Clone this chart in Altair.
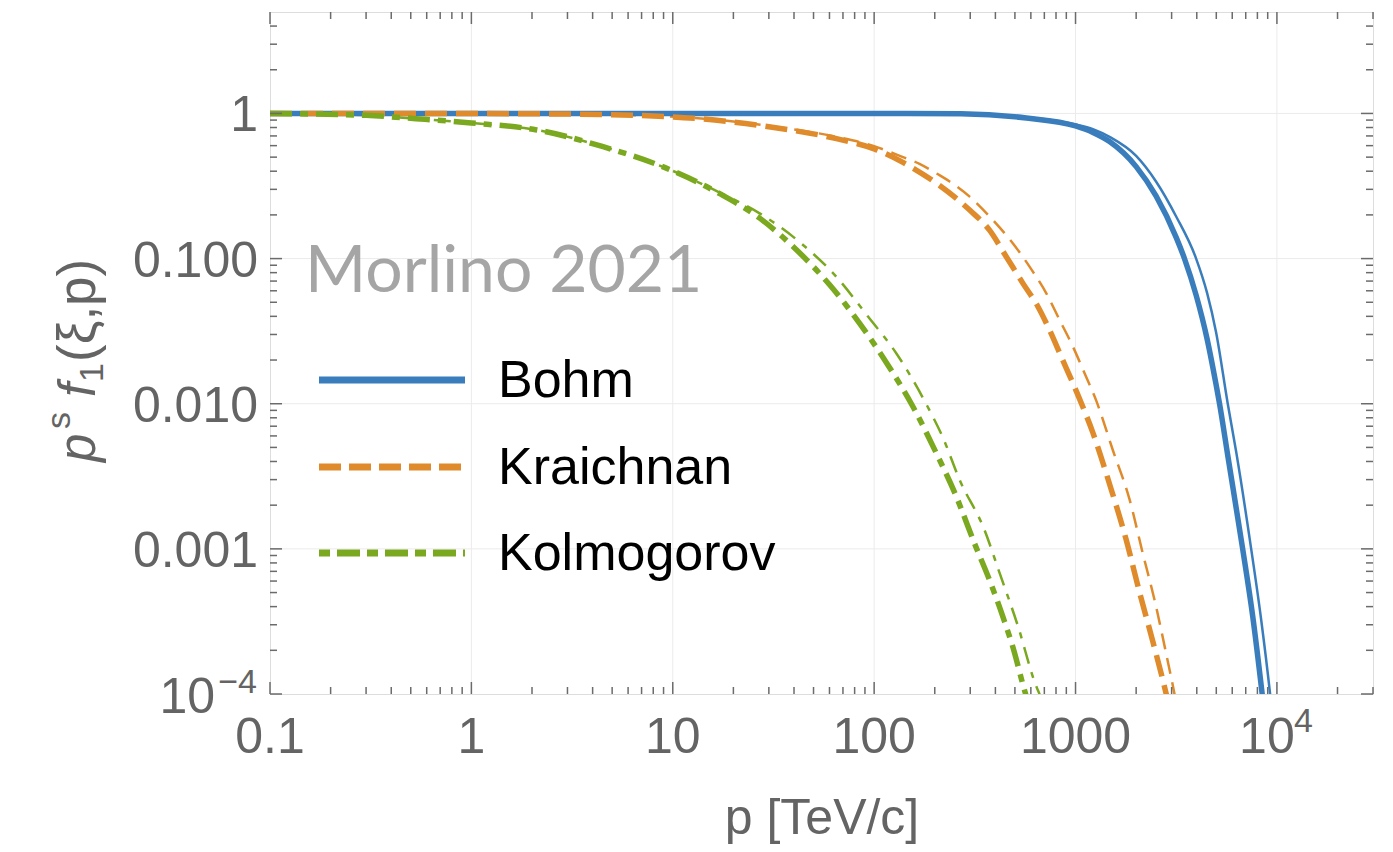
import altair as alt
import pandas as pd

# ---------------- data ----------------
bohm_thick_p = [0.1, 1, 10, 100, 270, 570, 1000, 1220, 1475, 2000, 2510, 3160, 3475, 3970, 4500, 4990, 5190, 5700, 6760, 7590, 8450, 9200]
bohm_thick_f = [1.0, 1.0, 1.0, 1.0, 0.995, 0.93, 0.82, 0.74, 0.64, 0.43, 0.27, 0.14, 0.1, 0.056, 0.028, 0.0135, 0.01, 0.0044, 0.001, 3.4e-4, 1.0e-4, 3.5e-5]

bohm_thin_p = [0.1, 1, 10, 100, 270, 570, 1000, 1220, 1475, 2000, 2510, 3160, 3970, 4500, 4990, 5700, 6270, 7450, 8340, 9250, 9900]
bohm_thin_f = [1.0, 1.0, 1.0, 1.0, 0.995, 0.94, 0.84, 0.78, 0.69, 0.51, 0.34, 0.195, 0.1, 0.058, 0.031, 0.01, 0.0047, 0.001, 3.3e-4, 1.0e-4, 4.0e-5]

kr_thick_p = [0.1, 1, 3, 9.6, 30, 65, 100, 139, 204, 298, 374, 453, 548, 651, 743, 849, 1047, 1220, 1475, 1786, 2080, 2420, 2820, 3100]
kr_thick_f = [1.0, 0.998, 0.99, 0.95, 0.81, 0.67, 0.57, 0.46, 0.33, 0.216, 0.157, 0.103, 0.0675, 0.0466, 0.0322, 0.0211, 0.0108, 0.0063, 0.0028, 0.00115, 5.0e-4, 2.3e-4, 1.0e-4, 5.5e-5]

kr_thin_p = [0.1, 1, 3, 9.6, 30, 65, 100, 139, 168, 204, 237, 298, 389, 489, 591, 716, 834, 971, 1109, 1267, 1531, 1853, 2158, 2512, 2818, 3100, 3350]
kr_thin_f = [1.0, 0.998, 0.99, 0.955, 0.82, 0.69, 0.595, 0.50, 0.45, 0.386, 0.34, 0.267, 0.184, 0.127, 0.088, 0.0576, 0.0377, 0.0247, 0.0162, 0.0105, 0.0048, 0.0022, 9.3e-4, 4.0e-4, 1.9e-4, 1.0e-4, 5.5e-5]

ko_thick_p = [0.1, 0.3, 0.53, 1.0, 2.11, 4.51, 9.67, 17.1, 27, 41.1, 60.1, 84.7, 117, 153, 204, 256, 315, 374, 436, 498, 548, 565, 600]
ko_thick_f = [1.0, 0.97, 0.92, 0.86, 0.77, 0.59, 0.41, 0.28, 0.19, 0.115, 0.066, 0.0358, 0.0185, 0.0100, 0.00454, 0.00229, 0.00109, 6.1e-4, 3.4e-4, 1.92e-4, 1.16e-4, 1.0e-4, 7.6e-5]

ko_thin_p = [0.1, 0.3, 0.53, 1.0, 2.11, 4.51, 9.67, 17.1, 27, 43.5, 64.9, 93, 129, 181, 220, 266, 353, 420, 518, 638, 662, 710]
ko_thin_f = [1.0, 0.97, 0.92, 0.86, 0.77, 0.59, 0.41, 0.285, 0.205, 0.127, 0.075, 0.040, 0.0222, 0.0100, 0.0058, 0.00298, 0.00135, 6.8e-4, 2.93e-4, 1.13e-4, 1.0e-4, 7.0e-5]

legend_names = ["Bohm", "Kraichnan", "Kolmogorov"]

x_domain = [0.1, 30000]
y_domain = [1e-4, 5]
x_major = [0.1, 1, 10, 100, 1000, 10000]
x_minor_mult = [2, 3, 4, 5, 6, 7, 8, 9]
y_major = [1e-4, 1e-3, 1e-2, 1e-1, 1]
x_label_vals = [0.1, 1, 10, 100, 1000]
x_label_text = ["0.1", "1", "10", "100", "1000"]
y_label_vals = [1e-3, 1e-2, 1e-1, 1]
y_label_text = ["0.001", "0.010", "0.100", "1"]

# ---------------- styling ----------------
W, H = 1103, 682
BLUE, ORANGE, GREEN = "#3a7dbd", "#df8b2b", "#7aa81e"
AXIS = "#6b6b6b"
LABEL = "#646464"
GRID = "#ebebeb"
FONT = "Liberation Sans"

xs = alt.Scale(type="log", domain=x_domain, nice=False)
ys = alt.Scale(type="log", domain=y_domain, nice=False)

x_minor = [m * d for d in x_major for m in x_minor_mult if m * d <= x_domain[1]]
y_minor = [m * d for d in y_major for m in x_minor_mult if m * d < y_domain[1]]


def curve(p, f, color, width, dash=None):
    df = pd.DataFrame({"p": p, "f": f})
    kw = dict(color=color, strokeWidth=width, clip=True, strokeJoin="round", interpolate="monotone")
    if dash:
        kw["strokeDash"] = dash
        kw["strokeCap"] = "butt"
    return alt.Chart(df).mark_line(**kw).encode(
        x=alt.X("p:Q", scale=xs, axis=None),
        y=alt.Y("f:Q", scale=ys, axis=None),
    )


def xrule(vals, y0, y1, color, width):
    return alt.Chart(pd.DataFrame({"v": vals})).mark_rule(color=color, strokeWidth=width).encode(
        x=alt.X("v:Q", scale=xs, axis=None), y=alt.value(y0), y2=alt.value(y1))


def yrule(vals, x0, x1, color, width):
    return alt.Chart(pd.DataFrame({"v": vals})).mark_rule(color=color, strokeWidth=width).encode(
        y=alt.Y("v:Q", scale=ys, axis=None), x=alt.value(x0), x2=alt.value(x1))


def label(text, x, y, size, color, **kw):
    return alt.Chart(pd.DataFrame({"t": [text]})).mark_text(
        fontSize=size, color=color, font=kw.pop("font", FONT), **kw
    ).encode(text="t:N", x=alt.value(x), y=alt.value(y))


layers = []
# grid
layers.append(xrule(x_major[1:], 0, H, GRID, 1))
layers.append(yrule(y_major[1:], 0, W, GRID, 1))

# curves (thin first, thick on top)
layers.append(curve(bohm_thin_p, bohm_thin_f, BLUE, 2.5))
layers.append(curve(kr_thin_p, kr_thin_f, ORANGE, 2.5, [16, 9]))
layers.append(curve(ko_thin_p, ko_thin_f, GREEN, 2.5, [17, 9, 6, 9]))
layers.append(curve(bohm_thick_p, bohm_thick_f, BLUE, 5.5))
layers.append(curve(kr_thick_p, kr_thick_f, ORANGE, 5.5, [22, 9]))
layers.append(curve(ko_thick_p, ko_thick_f, GREEN, 5.5, [22, 8, 8, 8]))

# frame ticks (inward)
layers.append(xrule(x_major, H, H - 12, AXIS, 1.5))
layers.append(xrule(x_minor, H, H - 7, AXIS, 1.5))
layers.append(xrule(x_major, 0, 12, AXIS, 1.5))
layers.append(xrule(x_minor, 0, 7, AXIS, 1.5))
layers.append(yrule(y_major, 0, 12, AXIS, 1.5))
layers.append(yrule(y_minor, 0, 7, AXIS, 1.5))
layers.append(yrule(y_major, W, W - 12, AXIS, 1.5))
layers.append(yrule(y_minor, W, W - 7, AXIS, 1.5))

# x tick labels
layers.append(alt.Chart(pd.DataFrame({"v": x_label_vals, "t": x_label_text})).mark_text(
    fontSize=50, color=LABEL, font=FONT, align="center", baseline="alphabetic"
).encode(x=alt.X("v:Q", scale=xs, axis=None), y=alt.value(741), text="t:N"))
layers.append(alt.Chart(pd.DataFrame({"v": [10000], "t": ["10"]})).mark_text(
    fontSize=50, color=LABEL, font=FONT, align="center", baseline="alphabetic", dx=-10
).encode(x=alt.X("v:Q", scale=xs, axis=None), y=alt.value(741), text="t:N"))
layers.append(alt.Chart(pd.DataFrame({"v": [10000], "t": ["4"]})).mark_text(
    fontSize=34, color=LABEL, font=FONT, align="left", baseline="alphabetic", dx=17
).encode(x=alt.X("v:Q", scale=xs, axis=None), y=alt.value(720), text="t:N"))

# y tick labels
layers.append(alt.Chart(pd.DataFrame({"v": y_label_vals, "t": y_label_text})).mark_text(
    fontSize=50, color=LABEL, font=FONT, align="right", baseline="alphabetic", dy=18
).encode(y=alt.Y("v:Q", scale=ys, axis=None), x=alt.value(-12), text="t:N"))
layers.append(alt.Chart(pd.DataFrame({"v": [1e-4], "t": ["10"]})).mark_text(
    fontSize=50, color=LABEL, font=FONT, align="right", baseline="alphabetic", dy=19
).encode(y=alt.Y("v:Q", scale=ys, axis=None), x=alt.value(-55), text="t:N"))
layers.append(alt.Chart(pd.DataFrame({"v": [1e-4], "t": ["\u22124"]})).mark_text(
    fontSize=34, color=LABEL, font=FONT, align="right", baseline="alphabetic", dy=-1
).encode(y=alt.Y("v:Q", scale=ys, axis=None), x=alt.value(-13), text="t:N"))

# axis titles
layers.append(label("p [TeV/c]", 552, 822, 50, LABEL, align="center", baseline="alphabetic"))
layers.append(label("p", -175, 450, 51, LABEL, angle=270, align="left", baseline="alphabetic", fontStyle="italic"))
layers.append(label("s", -200, 417, 34, LABEL, angle=270, align="left", baseline="alphabetic"))
layers.append(label("f", -175, 385, 51, LABEL, angle=270, align="left", baseline="alphabetic", fontStyle="italic"))
layers.append(label("1", -167, 370, 34, LABEL, angle=270, align="left", baseline="alphabetic"))
layers.append(label("(\u03be,p)", -175, 350, 53, LABEL, angle=270, align="left", baseline="alphabetic"))

# annotation
layers.append(label("Morlino 2021", 35, 280, 66, "#a5a5a5", align="left", baseline="alphabetic", font="Lato"))

# legend
leg_y = [368, 455, 541]
leg_dash = [None, [22, 8], [11, 7, 23, 7]]
leg_col = [BLUE, ORANGE, GREEN]
for name, yy, dash, col in zip(legend_names, leg_y, leg_dash, leg_col):
    kw = dict(color=col, strokeWidth=7)
    if dash:
        kw["strokeDash"] = dash
        kw["strokeCap"] = "butt"
    layers.append(alt.Chart(pd.DataFrame({"t": [name]})).mark_rule(**kw).encode(
        x=alt.value(49), x2=alt.value(195), y=alt.value(yy)))
    layers.append(label(name, 228, yy + 17, 52, "black", align="left", baseline="alphabetic"))

chart = alt.layer(*layers).properties(
    width=W, height=H,
    autosize=alt.AutoSizeParams(type="none"),
    padding={"left": 270, "top": 12, "right": 20, "bottom": 158},
).configure_view(stroke=AXIS, strokeWidth=2).configure(background="white")

chart.save("out.html", embed_options={"renderer": "svg", "actions": False})
